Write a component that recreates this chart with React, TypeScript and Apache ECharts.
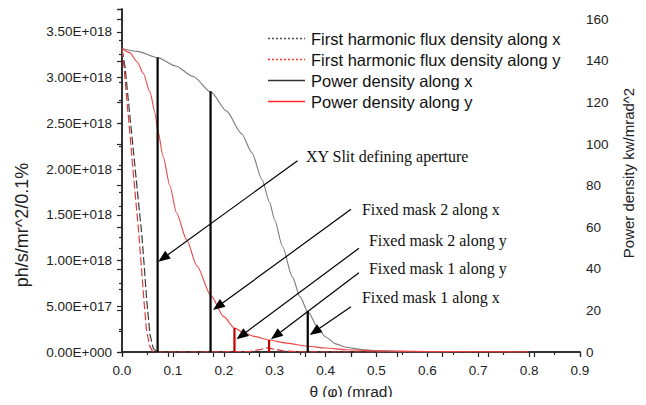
import React, { useEffect, useRef } from "react";
import * as echarts from "echarts";

// ---- data ----
const thetaTicks = [0, 0.1, 0.2, 0.3, 0.4, 0.5, 0.6, 0.7, 0.8, 0.9];

const fluxXTheta = [0, 0.006, 0.0124, 0.019, 0.0255, 0.032, 0.0387, 0.0438, 0.0485, 0.055, 0.0615, 0.068, 0.075];
const fluxXValue = [3.31e18, 3.12e18, 2.755e18, 2.39e18, 2.026e18, 1.66e18, 1.3e18, 0.93e18, 0.57e18, 0.19e18, 0.04e18, 0.005e18, 0];

const fluxYTheta = [0, 0.004, 0.0095, 0.0155, 0.021, 0.027, 0.033, 0.038, 0.043, 0.048, 0.054, 0.06, 0.07, 0.15, 0.25, 0.27, 0.285, 0.3, 0.32, 0.35, 0.4, 0.8];
const fluxYValue = [3.31e18, 3.12e18, 2.755e18, 2.39e18, 2.026e18, 1.66e18, 1.3e18, 0.93e18, 0.57e18, 0.25e18, 0.07e18, 0.01e18, 0, 0, 0.005e18, 0.025e18, 0.045e18, 0.03e18, 0.01e18, 0.003e18, 0, 0];

const powerXTheta = [0, 0.03, 0.07, 0.105, 0.14, 0.175, 0.205, 0.235, 0.255, 0.275, 0.29, 0.3, 0.315, 0.335, 0.35, 0.365, 0.385, 0.4, 0.42, 0.44, 0.47, 0.5, 0.55, 0.6, 0.64];
const powerXValue = [146, 144.6, 141.6, 137.6, 132.5, 125, 116, 105, 96, 83, 72, 63.5, 51, 36, 26.5, 19.5, 11.8, 7.2, 3.9, 2.3, 1.2, 0.6, 0.2, 0.05, 0];

const powerYTheta = [0, 0.015, 0.03, 0.042, 0.055, 0.065, 0.07, 0.081, 0.094, 0.107, 0.127, 0.147, 0.175, 0.2, 0.221, 0.24, 0.26, 0.289, 0.32, 0.365, 0.4, 0.44, 0.5, 0.6, 0.7, 0.8];
const powerYValue = [146, 144, 139.5, 134, 125, 115, 107, 94, 80, 67, 54, 41.5, 27, 17, 11.5, 9.2, 7.5, 5.8, 4.4, 2.8, 1.9, 1.1, 0.6, 0.25, 0.1, 0];

const apertureTheta = [0.07, 0.174, 0.221, 0.289, 0.365];
const apertureTop = [141.7, 125.4, 11.5, 5.8, 19.7];
const apertureColor = ["#000000", "#000000", "#c40000", "#c40000", "#000000"];

const noteText = [
  "XY Slit defining aperture",
  "Fixed mask 2 along x",
  "Fixed mask 2 along y",
  "Fixed mask 1 along y",
  "Fixed mask 1 along x",
];
const noteTheta = [0.3615, 0.4715, 0.4853, 0.4853, 0.4715];
const noteFlux = [2.132e18, 1.563e18, 1.214e18, 0.918e18, 0.601e18];
const arrowFromTheta = [0.345, 0.45, 0.4656, 0.4656, 0.45];
const arrowFromFlux = [2.091e18, 1.56e18, 1.134e18, 0.867e18, 0.495e18];
const arrowToTheta = [0.0713, 0.1788, 0.225, 0.2927, 0.369];
const arrowToFlux = [0.987e18, 0.459e18, 0.139e18, 0.139e18, 0.186e18];

const legendNames = [
  "First harmonic flux density along x",
  "First harmonic flux density along y",
  "Power density along x",
  "Power density along y",
];
const legendColors = ["#4a4a4a", "#ff2a2a", "#333333", "#ff2a2a"];
const legendDash = [[2, 2], [2, 2], [], []];

const SANS = "'Liberation Sans', Arial, sans-serif";
const SERIF = "'Liberation Serif', 'Times New Roman', serif";
const AXIS_COLOR = "#262626";

const zip = (a: number[], b: number[]) => a.map((v, i) => [v, b[i]]);

const sci = (v: number) => {
  if (v === 0) return "0.00E+000";
  const e = Math.floor(Math.log10(v) + 1e-9);
  const m = v / Math.pow(10, e);
  return `${m.toFixed(2)}E+${String(e).padStart(3, "0")}`;
};

export default function App() {
  const ref = useRef<HTMLDivElement>(null);

  useEffect(() => {
    if (!ref.current) return;
    const chart = echarts.init(ref.current, undefined, { renderer: "svg" });

    const axisLine = { show: true, lineStyle: { color: AXIS_COLOR, width: 1.5 } };
    const tickStyle = { color: AXIS_COLOR, width: 1.2 };

    chart.setOption({
      animation: false,
      backgroundColor: "#ffffff",
      grid: { left: 122, right: 66, top: 9, bottom: 53, containLabel: false, outerBoundsMode: "none" },
      xAxis: [
        {
          type: "value",
          position: "bottom",
          min: thetaTicks[0],
          max: thetaTicks[thetaTicks.length - 1],
          interval: 0.1,
          axisLine,
          axisTick: { show: true, inside: false, length: 5, lineStyle: tickStyle },
          minorTick: { show: true, splitNumber: 2, length: 3, lineStyle: tickStyle },
          splitLine: { show: false },
          minorSplitLine: { show: false },
          axisLabel: {
            formatter: (v: number) => v.toFixed(1),
            fontSize: 13.5,
            color: "#222",
            fontFamily: SANS,
            margin: 11,
          },
          name: "θ (φ) (mrad)",
          nameLocation: "middle",
          nameGap: 31,
          nameTextStyle: { fontSize: 15.5, color: "#222", fontFamily: SANS },
        },
        {
          type: "value",
          position: "top",
          min: 0,
          max: 10,
          interval: 1,
          axisLine,
          axisTick: { show: true, inside: true, length: 5, lineStyle: tickStyle },
          axisLabel: { show: false },
          splitLine: { show: false },
        },
      ],
      yAxis: [
        {
          type: "value",
          position: "left",
          min: 0,
          max: 3.75e18,
          interval: 0.5e18,
          axisLine,
          axisTick: { show: true, inside: false, length: 5, lineStyle: tickStyle },
          minorTick: { show: true, splitNumber: 2, length: 3, lineStyle: tickStyle },
          splitLine: { show: false },
          minorSplitLine: { show: false },
          axisLabel: {
            formatter: sci,
            showMaxLabel: false,
            fontSize: 13.5,
            color: "#222",
            fontFamily: SANS,
            margin: 10,
          },
        },
        {
          type: "value",
          position: "right",
          min: 0,
          max: 165,
          interval: 20,
          axisLine,
          axisTick: { show: true, inside: true, length: 5, lineStyle: tickStyle },
          minorTick: { show: true, splitNumber: 2, length: 3, lineStyle: tickStyle },
          splitLine: { show: false },
          minorSplitLine: { show: false },
          axisLabel: {
            showMaxLabel: false,
            fontSize: 13.5,
            color: "#222",
            fontFamily: SANS,
            margin: 6,
          },
        },
      ],
      series: [
        {
          name: legendNames[0],
          type: "line",
          xAxisIndex: 0,
          yAxisIndex: 0,
          data: zip(fluxXTheta, fluxXValue),
          symbol: "none",
          silent: true,
          lineStyle: { color: "#3a3a3a", width: 1.2, type: [8, 3] },
          z: 3,
        },
        {
          name: legendNames[1],
          type: "line",
          xAxisIndex: 0,
          yAxisIndex: 0,
          data: zip(fluxYTheta, fluxYValue),
          symbol: "none",
          silent: true,
          lineStyle: { color: "#e03a3a", width: 1.2, type: [8, 3] },
          z: 3,
        },
        {
          name: legendNames[2],
          type: "line",
          xAxisIndex: 0,
          yAxisIndex: 1,
          data: zip(powerXTheta, powerXValue),
          symbol: "none",
          smooth: 0.25,
          smoothMonotone: "x",
          silent: true,
          lineStyle: { color: "#7a7a7a", width: 1.1 },
          z: 2,
        },
        {
          name: legendNames[3],
          type: "line",
          xAxisIndex: 0,
          yAxisIndex: 1,
          data: zip(powerYTheta, powerYValue),
          symbol: "none",
          smooth: 0.25,
          smoothMonotone: "x",
          silent: true,
          lineStyle: { color: "#ee4444", width: 1.1 },
          z: 2,
        },
        ...apertureTheta.map((t, i) => ({
          name: `aperture${i}`,
          type: "line",
          xAxisIndex: 0,
          yAxisIndex: 1,
          data: [
            [t, 0],
            [t, apertureTop[i]],
          ],
          symbol: "none",
          silent: true,
          lineStyle: { color: apertureColor[i], width: 2.2 },
          z: 4,
        })),
      ],
    });

    const toPx = (x: number, y: number) =>
      chart.convertToPixel({ xAxisIndex: 0, yAxisIndex: 0 }, [x, y]) as number[];

    const graphics: any[] = [];

    // legend (drawn by hand so the sample line styles match)
    legendNames.forEach((nm, i) => {
      const y = 38.5 + i * 21;
      const dash = legendDash[i];
      graphics.push({
        type: "polyline",
        silent: true,
        z: 10,
        shape: { points: [[268, y], [305, y]] },
        style: dash.length
          ? { stroke: legendColors[i], lineWidth: 1.3, fill: null, lineDash: dash }
          : { stroke: legendColors[i], lineWidth: 1.3, fill: null },
      });
      graphics.push({
        type: "text",
        silent: true,
        z: 10,
        x: 311,
        y,
        style: {
          text: nm,
          fill: "#111",
          font: `16.5px ${SANS}`,
          textAlign: "left",
          textVerticalAlign: "middle",
        },
      });
    });

    // axis titles for the two y axes
    graphics.push({
      type: "text",
      silent: true,
      x: 22,
      y: 225,
      rotation: Math.PI / 2,
      style: {
        text: "ph/s/mr^2/0.1%",
        fill: "#222",
        font: `18px ${SANS}`,
        textAlign: "center",
        textVerticalAlign: "middle",
      },
    });
    graphics.push({
      type: "text",
      silent: true,
      x: 628,
      y: 173,
      rotation: Math.PI / 2,
      style: {
        text: "Power density kw/mrad^2",
        fill: "#222",
        font: `15px ${SANS}`,
        textAlign: "center",
        textVerticalAlign: "middle",
      },
    });

    const headLen = 12;
    const headHalf = 4.8;
    noteText.forEach((txt, i) => {
      const [x1, y1] = toPx(arrowFromTheta[i], arrowFromFlux[i]);
      const [x2, y2] = toPx(arrowToTheta[i], arrowToFlux[i]);
      const dx = x2 - x1;
      const dy = y2 - y1;
      const len = Math.hypot(dx, dy);
      const ux = dx / len;
      const uy = dy / len;
      const bx = x2 - ux * headLen;
      const by = y2 - uy * headLen;
      graphics.push({
        type: "line",
        silent: true,
        z: 10,
        shape: { x1, y1, x2: bx + ux, y2: by + uy },
        style: { stroke: "#000", lineWidth: 1.2 },
      });
      graphics.push({
        type: "polygon",
        silent: true,
        z: 10,
        shape: {
          points: [
            [x2, y2],
            [bx - uy * headHalf, by + ux * headHalf],
            [bx + uy * headHalf, by - ux * headHalf],
          ],
        },
        style: { fill: "#000" },
      });
      const [tx, ty] = toPx(noteTheta[i], noteFlux[i]);
      graphics.push({
        type: "text",
        silent: true,
        z: 10,
        x: tx,
        y: ty,
        style: {
          text: txt,
          fill: "#111",
          font: `16px ${SERIF}`,
          textAlign: "left",
          textVerticalAlign: "middle",
        },
      });
    });
    chart.setOption({ graphic: graphics });

    return () => chart.dispose();
  }, []);

  return <div ref={ref} style={{ width: 646, height: 405, margin: -8 }} />;
}
